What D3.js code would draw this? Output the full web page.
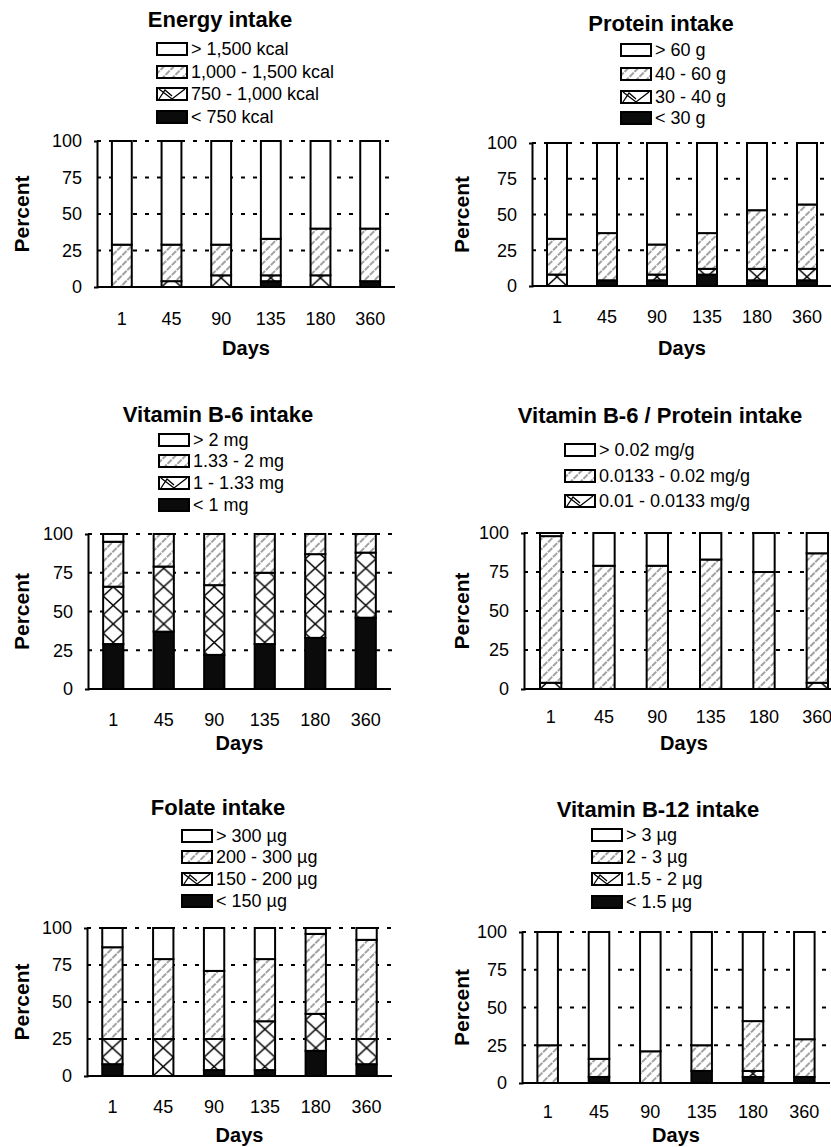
<!DOCTYPE html>
<html>
<head>
  <meta charset="utf-8">
  <title>Intake by day</title>
  <style>
    body { margin: 0; background: #fff; }
    text { font-family: "Liberation Sans", Arial, sans-serif; fill: #000; }
  </style>
</head>
<body>
  <script src="https://cdnjs.cloudflare.com/ajax/libs/d3/7.8.5/d3.min.js"></script>
  <script>
    // data: percent of subjects per intake class, legend order (top class first)
    const days = ["1", "45", "90", "135", "180", "360"];
    const yTicks = [0, 25, 50, 75, 100];

    const energyLabels = ["> 1,500 kcal", "1,000 - 1,500 kcal", "750 - 1,000 kcal", "< 750 kcal"];
    const energyPct = [
      [71, 71, 71, 67, 60, 60],
      [29, 25, 21, 25, 32, 36],
      [0, 4, 8, 4, 8, 0],
      [0, 0, 0, 4, 0, 4]
    ];

    const proteinLabels = ["> 60 g", "40 - 60 g", "30 - 40 g", "< 30 g"];
    const proteinPct = [
      [67, 63, 71, 63, 47, 43],
      [25, 33, 21, 25, 41, 45],
      [8, 0, 4, 4, 8, 8],
      [0, 4, 4, 8, 4, 4]
    ];

    const b6Labels = ["> 2 mg", "1.33 - 2 mg", "1 - 1.33 mg", "< 1 mg"];
    const b6Pct = [
      [5, 0, 0, 0, 0, 0],
      [29, 21, 33, 25, 13, 12],
      [37, 42, 45, 46, 54, 42],
      [29, 37, 22, 29, 33, 46]
    ];

    const ratioLabels = ["> 0.02 mg/g", "0.0133 - 0.02 mg/g", "0.01 - 0.0133 mg/g"];
    const ratioPct = [
      [2, 21, 21, 17, 25, 13],
      [94, 79, 79, 83, 75, 83],
      [4, 0, 0, 0, 0, 4]
    ];

    const folateLabels = ["> 300 µg", "200 - 300 µg", "150 - 200 µg", "< 150 µg"];
    const folatePct = [
      [13, 21, 29, 21, 4, 8],
      [62, 54, 46, 42, 54, 67],
      [17, 25, 21, 33, 25, 17],
      [8, 0, 4, 4, 17, 8]
    ];

    const b12Labels = ["> 3 µg", "2 - 3 µg", "1.5 - 2 µg", "< 1.5 µg"];
    const b12Pct = [
      [75, 84, 79, 75, 59, 71],
      [25, 12, 21, 17, 33, 25],
      [0, 0, 0, 0, 4, 0],
      [0, 4, 0, 8, 4, 4]
    ];

    // layout of the six panels
    const panels = [
      { title: "Energy intake", labels: energyLabels, pct: energyPct,
        x0: 97, x1: 395, yBot: 287, yTop: 141, titleX: 220, titleY: 27,
        legX: 157, legY: [49, 72, 94, 117], pcX: 22, tickGap: 25, daysY: 355 },
      { title: "Protein intake", labels: proteinLabels, pct: proteinPct,
        x0: 532, x1: 832, yBot: 286, yTop: 143, titleX: 661, titleY: 31,
        legX: 621, legY: [50, 74, 97, 118], pcX: 462, tickGap: 24, daysY: 355 },
      { title: "Vitamin B-6 intake", labels: b6Labels, pct: b6Pct,
        x0: 88, x1: 391, yBot: 689, yTop: 534, titleX: 218, titleY: 422,
        legX: 159, legY: [440, 461, 483, 505], pcX: 22, tickGap: 24, daysY: 750 },
      { title: "Vitamin B-6 / Protein intake", labels: ratioLabels, pct: ratioPct,
        x0: 524, x1: 844, yBot: 689, yTop: 533, titleX: 660, titleY: 423,
        legX: 565, legY: [450, 476, 501], pcX: 462, tickGap: 21, daysY: 750 },
      { title: "Folate intake", labels: folateLabels, pct: folatePct,
        x0: 87, x1: 392, yBot: 1076, yTop: 928, titleX: 218, titleY: 815,
        legX: 182, legY: [836, 857, 879, 901], pcX: 22, tickGap: 24, daysY: 1142 },
      { title: "Vitamin B-12 intake", labels: b12Labels, pct: b12Pct,
        x0: 522, x1: 830, yBot: 1083, yTop: 932, titleX: 658, titleY: 817,
        legX: 592, legY: [835, 857, 879, 902], pcX: 462, tickGap: 22, daysY: 1142 }
    ];

    const svg = d3.select("body").append("svg")
      .attr("width", 831)
      .attr("height", 1147);

    const defs = svg.append("defs");
    const hatch = defs.append("pattern")
      .attr("id", "hatch")
      .attr("patternUnits", "userSpaceOnUse")
      .attr("width", 7)
      .attr("height", 7)
      .attr("patternTransform", "rotate(45)");
    hatch.append("rect").attr("width", 7).attr("height", 7).attr("fill", "#fff");
    hatch.append("line")
      .attr("x1", 1).attr("y1", 0).attr("x2", 1).attr("y2", 7)
      .attr("stroke", "#7a7a7a")
      .attr("stroke-width", 1.4)
      .attr("stroke-dasharray", "3,1");

    panels.forEach((p, i) => {
      const g = svg.append("g");

      const x = d3.scaleBand()
        .domain(days)
        .range([p.x0, p.x1])
        .paddingInner(0.6)
        .paddingOuter(0.3);
      const y = d3.scaleLinear()
        .domain([0, 100])
        .range([p.yBot, p.yTop]);

      const bw = x.bandwidth();
      const ch = bw * 0.92;

      // cross pattern lined up with the bars
      const cross = defs.append("pattern")
        .attr("id", "cross" + i)
        .attr("patternUnits", "userSpaceOnUse")
        .attr("x", x(days[0]))
        .attr("y", y(0))
        .attr("width", x.step())
        .attr("height", ch);
      cross.append("rect").attr("width", x.step()).attr("height", ch).attr("fill", "#fff");
      cross.append("path")
        .attr("d", "M0,0L" + bw + "," + ch + "M" + bw + ",0L0," + ch)
        .attr("stroke", "#000")
        .attr("stroke-width", 1.5)
        .attr("fill", "none");

      const fills = ["#fff", "url(#hatch)", "url(#cross" + i + ")", "#0b0b0b"];

      // dotted grid
      g.selectAll(".grid")
        .data(yTicks.filter(t => t > 0))
        .enter().append("line")
        .attr("x1", p.x0)
        .attr("x2", p.x1 + 2)
        .attr("y1", d => y(d))
        .attr("y2", d => y(d))
        .attr("stroke", "#000")
        .attr("stroke-width", 2)
        .attr("stroke-dasharray", "4,8");

      // stacked bars, bottom class first
      const keys = p.labels.map((l, c) => c).reverse();
      const rows = days.map((d, j) => {
        const o = { day: d };
        keys.forEach(c => { o[c] = p.pct[c][j]; });
        return o;
      });
      const series = d3.stack().keys(keys)(rows);

      series.forEach(s => {
        g.selectAll(null)
          .data(s.filter(d => d[1] - d[0] > 0))
          .enter().append("rect")
          .attr("x", d => x(d.data.day))
          .attr("y", d => y(d[1]))
          .attr("width", bw)
          .attr("height", d => y(d[0]) - y(d[1]))
          .attr("fill", fills[s.key])
          .attr("stroke", "#000")
          .attr("stroke-width", 2);
      });

      // baseline
      g.append("line")
        .attr("x1", p.x0)
        .attr("x2", p.x1)
        .attr("y1", y(0))
        .attr("y2", y(0))
        .attr("stroke", "#000")
        .attr("stroke-width", 2);

      // axes
      const ya = g.append("g")
        .attr("transform", "translate(" + p.x0 + ",0)")
        .call(d3.axisLeft(y).tickValues(yTicks).tickSizeInner(0).tickSizeOuter(3).tickPadding(15));
      ya.select(".domain").attr("stroke-width", 2);
      ya.selectAll("text").attr("font-size", 18).attr("font-family", null);

      const xa = g.append("g")
        .attr("transform", "translate(0," + y(0) + ")")
        .call(d3.axisBottom(x).tickSize(0).tickPadding(p.tickGap));
      xa.select(".domain").remove();
      xa.selectAll("text").attr("font-size", 18).attr("font-family", null);

      // titles and axis labels
      g.append("text")
        .attr("x", p.titleX)
        .attr("y", p.titleY)
        .attr("text-anchor", "middle")
        .attr("font-size", 22)
        .attr("font-weight", "bold")
        .text(p.title);

      g.append("text")
        .attr("transform", "translate(" + p.pcX + "," + ((p.yBot + p.yTop) / 2) + ") rotate(-90)")
        .attr("text-anchor", "middle")
        .attr("dy", "0.35em")
        .attr("font-size", 21)
        .attr("font-weight", "bold")
        .text("Percent");

      g.append("text")
        .attr("x", (p.x0 + p.x1) / 2)
        .attr("y", p.daysY)
        .attr("text-anchor", "middle")
        .attr("font-size", 20)
        .attr("font-weight", "bold")
        .text("Days");

      // legend
      const leg = g.selectAll(".leg")
        .data(p.labels)
        .enter().append("g")
        .attr("transform", (d, c) => "translate(" + p.legX + "," + p.legY[c] + ")");

      leg.append("rect")
        .attr("x", 0)
        .attr("y", -6)
        .attr("width", 30)
        .attr("height", 12)
        .attr("fill", (d, c) => c === 2 ? "#fff" : fills[c])
        .attr("stroke", "#000")
        .attr("stroke-width", 2);

      leg.filter((d, c) => c === 2).append("path")
        .attr("d", "M2,-5L15,5L28,-5M2,5L8,-4L15,2")
        .attr("stroke", "#000")
        .attr("stroke-width", 1.3)
        .attr("fill", "none");

      leg.append("text")
        .attr("x", 34)
        .attr("dy", "0.35em")
        .attr("font-size", 18)
        .text(d => d);
    });
  </script>
</body>
</html>
